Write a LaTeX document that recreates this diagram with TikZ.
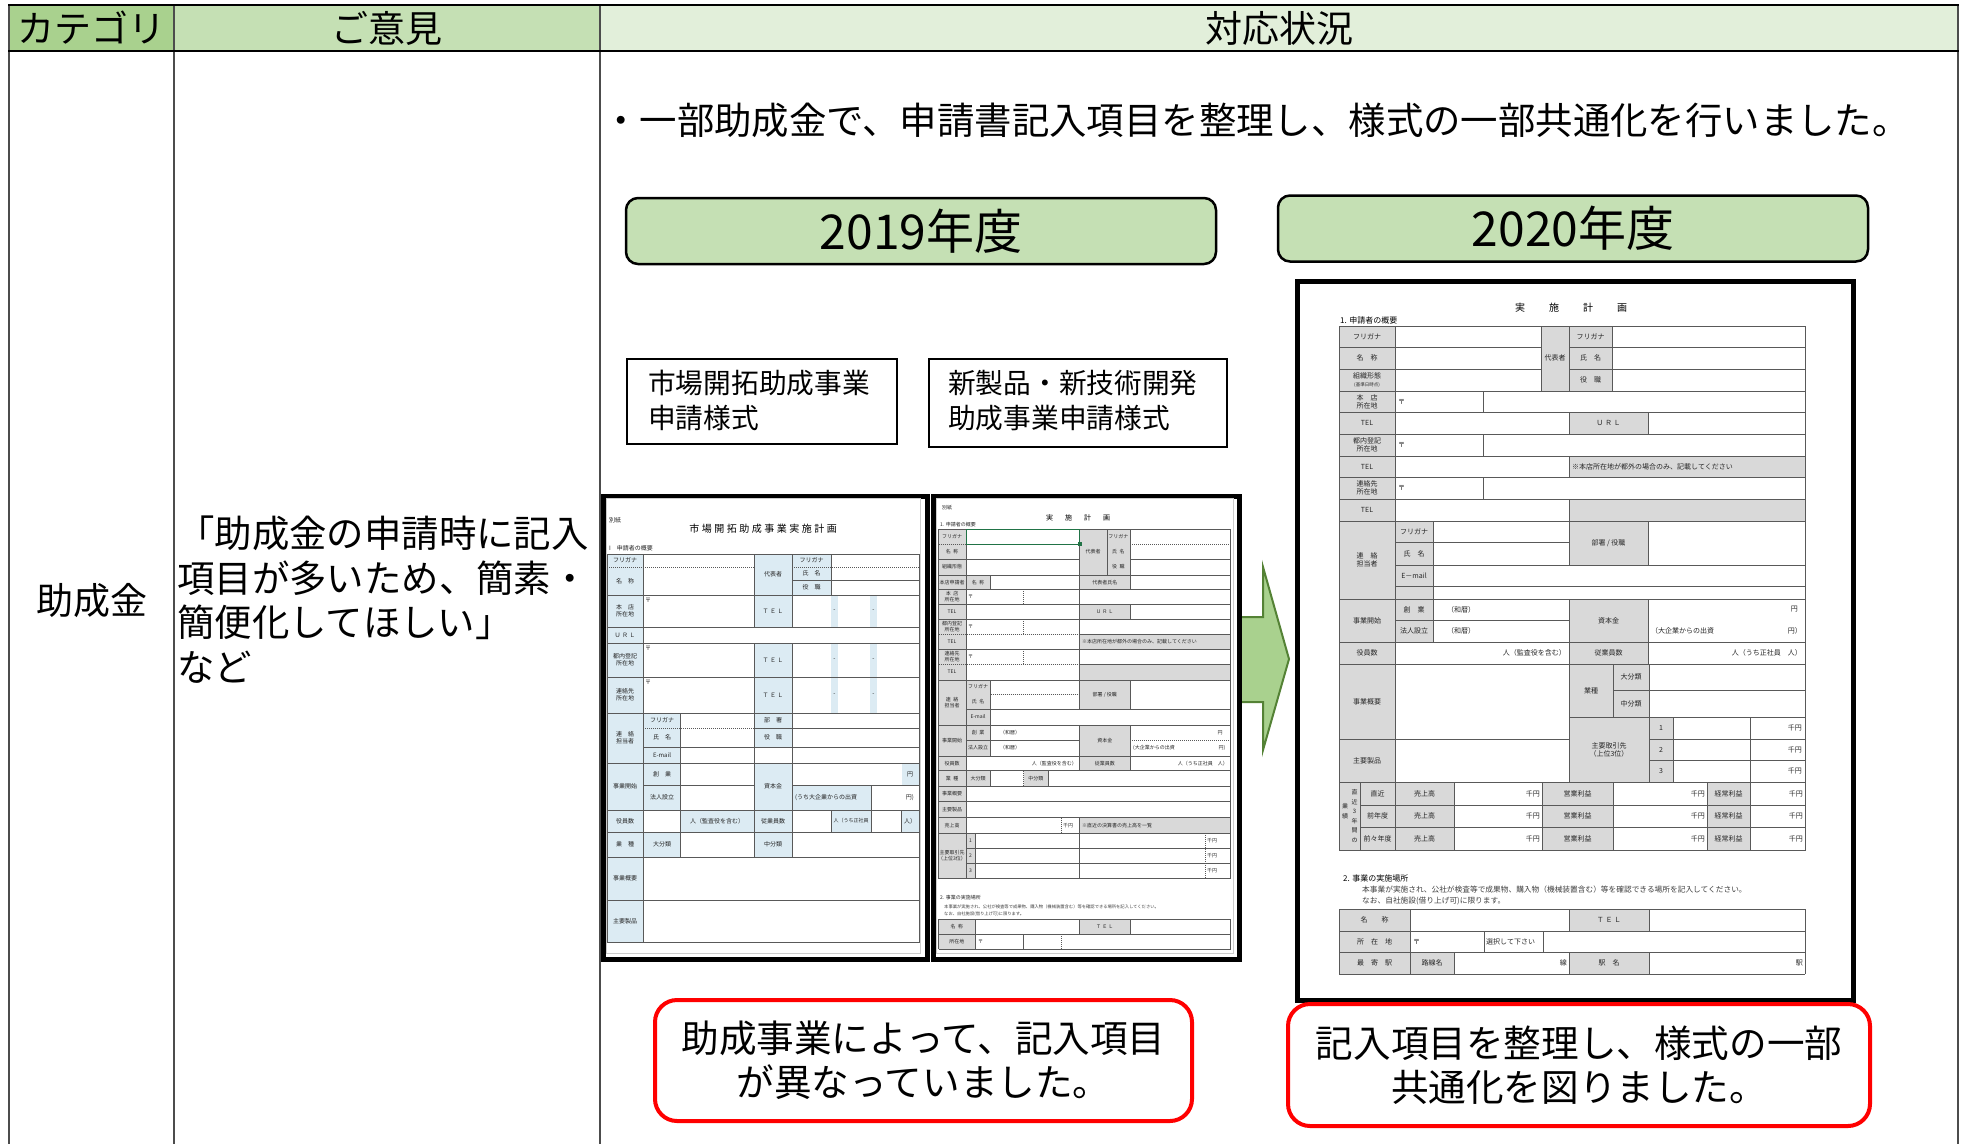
\documentclass[tikz,border=0pt]{standalone}
\usepackage{fontspec}
\setmainfont{Noto Sans CJK JP}
\definecolor{hdrA}{HTML}{A9D18E}
\definecolor{hdrB}{HTML}{C5E0B4}
\definecolor{hdrC}{HTML}{E2EFDA}
\definecolor{arrowline}{HTML}{548235}
\definecolor{fgray}{HTML}{D9D9D9}
\definecolor{fblue}{HTML}{DCEBF3}
\definecolor{xlgreen}{HTML}{217346}
\newcounter{flabcnt}
\newcommand\putlab[4][ftC]{\stepcounter{flabcnt}\node[#1] (flab\arabic{flabcnt}) at (#2,#3) {#4};}
\tikzset{
  gridline/.style={draw=black!70, line width=1.8pt},
  hdrtxt/.style={font=\fontsize{37}{43}\selectfont, inner sep=0pt},
  bigtxt/.style={font=\fontsize{37.4}{44.5}\selectfont, inner sep=0pt, align=left},
  yearbox/.style={draw=black, line width=2.5pt, fill=hdrB, rounded corners=12pt, font=\fontsize{48}{56}\selectfont, minimum width=590pt, minimum height=66pt, inner sep=0pt},
  namebox/.style={draw=black, line width=1.5pt, fill=white, inner sep=0pt, anchor=north west},
  nametxt/.style={font=\fontsize{27.7}{35}\selectfont, align=left, inner sep=0pt, anchor=west},
  notebox/.style={draw=red, line width=4pt, rounded corners=22pt, fill=white, font=\fontsize{37.6}{44}\selectfont, align=center, inner sep=0pt},
  formframe/.style={draw=black, line width=4.5pt, fill=white, inner sep=0pt, anchor=north west},
  fl/.style={draw=black!65, line width=0.6pt},
  fld/.style={draw=black!65, line width=0.5pt, dash pattern=on 1pt off 1pt},
  ftA/.style={font=\fontsize{6}{7}\selectfont, inner sep=0pt, align=center, text=black!85},
  ftB/.style={font=\fontsize{5}{6}\selectfont, inner sep=0pt, align=center, text=black!85},
  ftBs/.style={font=\fontsize{4.3}{5}\selectfont, inner sep=0pt, text=black!75},
  ftC/.style={font=\fontsize{7}{8}\selectfont, inner sep=0pt, align=center, text=black!85},
  ftV/.style={font=\fontsize{6}{9.5}\selectfont, inner sep=0pt, align=center, text=black!85},
  ftS/.style={font=\fontsize{7.7}{9}\selectfont, inner sep=0pt, text=black!75},
  ftH/.style={font=\fontsize{8}{9}\selectfont, inner sep=0pt},
  titleA/.style={font=\fontsize{10}{12}\selectfont\addfontfeature{LetterSpace=25}, inner sep=0pt},
  titleB/.style={font=\fontsize{7}{8}\selectfont, inner sep=0pt},
  titleC/.style={font=\fontsize{10}{12}\selectfont, inner sep=0pt},
}
\begin{document}
\begin{tikzpicture}[x=1pt,y=-1pt]
\useasboundingbox (0,0) rectangle (1968,1144);
\fill[white] (0,0) rectangle (1968,1144);
% ---------- main table ----------
\fill[hdrA] (9,5) rectangle (174,51);
\fill[hdrB] (174,5) rectangle (600,51);
\fill[hdrC] (600,5) rectangle (1958,51);
\foreach \x in {9,174,600,1958} \draw[gridline] (\x,5) -- (\x,1144);
\draw[black, line width=2pt] (8,5) -- (1959,5);
\draw[black, line width=2pt] (8,51) -- (1959,51);
\node[hdrtxt] (hcat) at (91.5,28) {カテゴリ};
\node[hdrtxt] (hop) at (387,28) {ご意見};
\node[hdrtxt] (hres) at (1279,28) {対応状況};
\node[hdrtxt] (cat) at (91.5,601) {助成金};
\node[bigtxt, anchor=north west] (opinion) at (177,516) {「助成金の申請時に記入\\項目が多いため、簡素・\\簡便化してほしい」\\など};
\node[bigtxt, anchor=west] (bullet) at (602,120) {・一部助成金で、申請書記入項目を整理し、様式の一部共通化を行いました。};
% ---------- year boxes ----------
\node[yearbox] (y2019) at (921,231) {2019年度};
\node[yearbox] (y2020) at (1573,228.5) {2020年度};
% ---------- form name boxes ----------
\node[namebox, minimum width=270pt, minimum height=85pt] (nb1) at (626,358) {};
\node[nametxt] (nt1) at (648,400) {市場開拓助成事業\\申請様式};
\node[namebox, minimum width=298pt, minimum height=88pt] (nb2) at (928,358) {};
\node[nametxt] (nt2) at (948,401) {新製品・新技術開発\\助成事業申請様式};
% ---------- arrow ----------
\draw[fill=hdrA, draw=arrowline, line width=2pt, line join=miter] (1234,617) -- (1263,617) -- (1263,567) -- (1289,659) -- (1263,750) -- (1263,702) -- (1234,702) -- cycle;
% ---------- form 1 ----------
\node[formframe, minimum width=324pt, minimum height=463pt] (form1) at (601,494) {};
\draw[gray!40, line width=0.4pt] (606,498) rectangle (920,953);
\fill[fblue] (607,554) rectangle (643,942);
\fill[fblue] (754,554) rectangle (831,595);
\fill[fblue] (754,595) rectangle (792,627);
\fill[fblue] (754,643) rectangle (792,713);
\foreach \ya/\yb in {595/627,643/677,677/713} {\fill[fblue] (831,\ya) rectangle (838,\yb); \fill[fblue] (870,\ya) rectangle (877,\yb);}
\fill[fblue] (643,713) rectangle (680.5,763);
\fill[fblue] (754,713) rectangle (792,747);
\fill[fblue] (643,763) rectangle (680.5,810);
\fill[fblue] (754,763) rectangle (792,810);
\fill[fblue] (901.5,763) rectangle (919,785);
\fill[fblue] (792,785) rectangle (871,810);
\fill[fblue] (680.5,810) rectangle (792,832);
\fill[fblue] (831,810) rectangle (871,832);
\fill[fblue] (901.5,810) rectangle (919,832);
\fill[fblue] (643,832) rectangle (680.5,857);
\fill[fblue] (754,832) rectangle (792,857);
\draw[fl] (607,554) rectangle (919,942);
\foreach \y in {595,627,643,677,713,763,810,832,857,900} \draw[fl] (607,\y) -- (919,\y);
\draw[fld] (607,567) -- (754,567);
\draw[fld] (792,567) -- (919,567);
\draw[fl] (792,580) -- (919,580);
\draw[fld] (643,728) -- (754,728);
\draw[fl] (754,728) -- (919,728);
\draw[fl] (643,747) -- (919,747);
\draw[fl] (643,785) -- (754,785);
\draw[fl] (792,785) -- (919,785);
\draw[fl] (643,554) -- (643,942);
\draw[fl] (754,554) -- (754,627); \draw[fl] (754,643) -- (754,857);
\draw[fl] (792,554) -- (792,627); \draw[fl] (792,643) -- (792,857);
\draw[fl] (831,554) -- (831,595);
\draw[fl] (680.5,713) -- (680.5,857);
\draw[fl] (871,785) -- (871,832);
\draw[fl] (831,810) -- (831,832);
\draw[fl] (901.5,810) -- (901.5,832);
\putlab[ftA, anchor=west]{609}{520}{別紙}
\putlab[titleA]{763}{529}{市場開拓助成事業実施計画}
\putlab[ftA, anchor=west]{609}{548}{I\quad 申請者の概要}
\putlab[ftA]{625}{560.5}{フリガナ}
\putlab[ftA]{625}{581}{名\quad 称}
\putlab[ftA]{773}{574.5}{代表者}
\putlab[ftA]{811.5}{560.5}{フリガナ}
\putlab[ftA]{811.5}{573.5}{氏\quad 名}
\putlab[ftA]{811.5}{587.5}{役\quad 職}
\putlab[ftA]{625}{611}{本\quad 店\\所在地}
\putlab[ftA, anchor=west]{645}{600}{〒}
\putlab[ftA]{773}{611}{Ｔ Ｅ Ｌ}
\putlab[ftA]{625}{635}{Ｕ Ｒ Ｌ}
\putlab[ftA]{625}{660}{都内登記\\所在地}
\putlab[ftA, anchor=west]{645}{648}{〒}
\putlab[ftA]{773}{660}{Ｔ Ｅ Ｌ}
\putlab[ftA]{625}{695}{連絡先\\所在地}
\putlab[ftA, anchor=west]{645}{682}{〒}
\putlab[ftA]{773}{695}{Ｔ Ｅ Ｌ}
\foreach \y in {611,660,695} {\putlab[ftA]{834.5}{\y}{-}\putlab[ftA]{873.5}{\y}{-}}
\putlab[ftA]{625}{738}{連\quad 絡\\担当者}
\putlab[ftA]{662}{720.5}{フリガナ}
\putlab[ftA]{662}{737.5}{氏\quad 名}
\putlab[ftA]{662}{755}{E-mail}
\putlab[ftA]{773}{720.5}{部\quad 署}
\putlab[ftA]{773}{737.5}{役\quad 職}
\putlab[ftA]{625}{786.5}{事業開始}
\putlab[ftA]{662}{774}{創\quad 業}
\putlab[ftA]{662}{797.5}{法人設立}
\putlab[ftA]{773}{786.5}{資本金}
\putlab[ftA]{910}{774}{円}
\putlab[ftA, anchor=west]{795}{797.5}{(うち大企業からの出資}
\putlab[ftA]{910}{797.5}{円)}
\putlab[ftA]{625}{821}{役員数}
\putlab[ftA]{717}{821}{人（監査役を含む）}
\putlab[ftA]{773}{821}{従業員数}
\putlab[ftB]{851}{821}{人（うち正社員}
\putlab[ftA]{910}{821}{人）}
\putlab[ftA]{625}{844.5}{業\quad 種}
\putlab[ftA]{662}{844.5}{大分類}
\putlab[ftA]{773}{844.5}{中分類}
\putlab[ftA]{625}{878.5}{事業概要}
\putlab[ftA]{625}{921}{主要製品}
% ---------- form 2 ----------
\node[formframe, minimum width=306pt, minimum height=463pt] (form2) at (931,494) {};
\draw[gray!40, line width=0.4pt] (936,498) rectangle (1233,953);
\fill[fgray] (938.5,529.3) rectangle (965.8,878.3);
\fill[fgray] (1079.5,529.3) rectangle (1130,575);
\fill[fgray] (965.8,575) rectangle (990.7,589.3);
\fill[fgray] (1079.5,575) rectangle (1130,589.3);
\fill[fgray] (1079.5,604.3) rectangle (1130,619.3);
\fill[fgray] (1079.5,634) rectangle (1230.6,649.3);
\fill[fgray] (1079.5,664.3) rectangle (1230.6,680);
\fill[fgray] (965.8,680) rectangle (990.7,756);
\fill[fgray] (1079.5,680) rectangle (1130,709.3);
\fill[fgray] (1079.5,725) rectangle (1130,770.7);
\fill[fgray] (965.8,770.7) rectangle (990.7,786);
\fill[fgray] (1023.5,770.7) rectangle (1048,786);
\fill[fgray] (1079.5,817.7) rectangle (1230.6,833.3);
\fill[fgray] (965.8,833.3) rectangle (975,878.3);
\fill[fgray] (938.5,919.3) rectangle (975,949.3);
\fill[fgray] (1079.5,919.3) rectangle (1130,934);
\draw[fl] (938.5,529.3) rectangle (1230.6,878.3);
\foreach \y in {575,589.3,604.3,619.3,649.3,680,725,756,770.7,786,801.7,817.7,833.3} \draw[fl] (938.5,\y) -- (1230.6,\y);
\draw[fld] (938.5,544.3) -- (1079.5,544.3); \draw[fld] (1130,544.3) -- (1230.6,544.3);
\draw[fl] (938.5,559) -- (1079.5,559); \draw[fl] (1130,559) -- (1230.6,559);
\draw[fld] (938.5,634) -- (1079.5,634); \draw[fl] (1079.5,634) -- (1230.6,634);
\draw[fld] (938.5,664.3) -- (1079.5,664.3); \draw[fl] (1079.5,664.3) -- (1230.6,664.3);
\draw[fld] (990.7,694.5) -- (1079.5,694.5);
\draw[fl] (965.8,709.3) -- (1230.6,709.3);
\draw[fl] (965.8,740) -- (1079.5,740); \draw[fld] (1130,740) -- (1230.6,740);
\draw[fl] (965.8,848.3) -- (1230.6,848.3);
\draw[fl] (965.8,863.3) -- (1230.6,863.3);
\draw[fl] (965.8,529.3) -- (965.8,878.3);
\draw[fl] (1079.5,529.3) -- (1079.5,709.3);
\draw[fl] (1079.5,725) -- (1079.5,770.7);
\draw[fl] (1079.5,817.7) -- (1079.5,878.3);
\draw[fl] (1106.8,529.3) -- (1106.8,575);
\draw[fl] (1130,529.3) -- (1130,589.3);
\draw[fl] (1130,604.3) -- (1130,619.3);
\draw[fl] (1130,680) -- (1130,709.3);
\draw[fl] (1130,725) -- (1130,770.7);
\draw[fl] (990.7,575) -- (990.7,589.3);
\draw[fl] (990.7,680) -- (990.7,756);
\draw[fl] (990.7,770.7) -- (990.7,786);
\foreach \ya/\yb in {589.3/604.3,619.3/634,649.3/664.3} \draw[fld] (1023.5,\ya) -- (1023.5,\yb);
\draw[fld] (1023.5,770.7) -- (1023.5,786);
\draw[fl] (1048,770.7) -- (1048,786);
\draw[fld] (1061.4,817.7) -- (1061.4,833.3);
\draw[fl] (975,833.3) -- (975,878.3);
\draw[fld] (1205.3,833.3) -- (1205.3,878.3);
\foreach \y in {919.3,934,949.3} \draw[fl] (938.5,\y) -- (1230.6,\y);
\draw[fl] (938.5,919.3) -- (938.5,949.3); \draw[fl] (975,919.3) -- (975,949.3); \draw[fl] (1230.6,919.3) -- (1230.6,949.3);
\draw[fl] (1079.5,919.3) -- (1079.5,934); \draw[fl] (1130,919.3) -- (1130,934);
\draw[fl] (1023.5,934) -- (1023.5,949.3); \draw[fld] (1061.4,934) -- (1061.4,949.3);
\draw[xlgreen, line width=1pt] (966,529.5) rectangle (1079.5,544.3);
\fill[xlgreen] (1077.5,542.3) rectangle (1081.5,546.3);
\putlab[ftB, anchor=west]{942}{508}{別紙}
\putlab[titleB]{1078}{518}{実\hspace{12pt}施\hspace{12pt}計\hspace{12pt}画}
\putlab[ftB, anchor=west]{940}{525}{1. 申請者の概要}
\putlab[ftB]{952}{536.8}{フリガナ}
\putlab[ftB]{952}{551.7}{名\enspace 称}
\putlab[ftB]{952}{567}{組織形態}
\putlab[ftB]{1093}{552}{代表者}
\putlab[ftB]{1118.4}{536.8}{フリガナ}
\putlab[ftB]{1118.4}{551.7}{氏\enspace 名}
\putlab[ftB]{1118.4}{567}{役\enspace 職}
\putlab[ftB]{952}{582.2}{本店申請者}
\putlab[ftB]{978}{582.2}{名\enspace 称}
\putlab[ftB]{1104.8}{582.2}{代表者氏名}
\putlab[ftB]{952}{596.8}{本\enspace 店\\所在地}
\putlab[ftB, anchor=west]{968}{596.8}{〒}
\putlab[ftB]{952}{611.8}{TEL}
\putlab[ftB]{1104.8}{611.8}{Ｕ Ｒ Ｌ}
\putlab[ftB]{952}{626.7}{都内登記\\所在地}
\putlab[ftB, anchor=west]{968}{626.7}{〒}
\putlab[ftB]{952}{641.7}{TEL}
\putlab[ftB, anchor=west]{1082}{641.7}{※本店所在地が都外の場合のみ、記載してください}
\putlab[ftB]{952}{656.8}{連絡先\\所在地}
\putlab[ftB, anchor=west]{968}{656.8}{〒}
\putlab[ftB]{952}{672}{TEL}
\putlab[ftB]{952}{702.5}{連\enspace 絡\\担当者}
\putlab[ftB]{978}{687}{フリガナ}
\putlab[ftB]{978}{701.8}{氏\enspace 名}
\putlab[ftB]{978}{717}{E-mail}
\putlab[ftB]{1104.8}{694.5}{部署 / 役職}
\putlab[ftB]{952}{740.5}{事業開始}
\putlab[ftB]{978}{732.5}{創\enspace 業}
\putlab[ftB]{978}{748}{法人設立}
\putlab[ftB, anchor=west]{1000}{732.5}{（和暦）}
\putlab[ftB, anchor=west]{1000}{748}{（和暦）}
\putlab[ftB]{1104.8}{740.5}{資本金}
\putlab[ftB]{1220}{732.5}{円}
\putlab[ftB, anchor=west]{1133}{748}{(大企業からの出資}
\putlab[ftB]{1222}{748}{円)}
\putlab[ftB]{952}{763.3}{役員数}
\putlab[ftB, anchor=east]{1077}{763.3}{人（監査役を含む）}
\putlab[ftB]{1104.8}{763.3}{従業員数}
\putlab[ftB, anchor=east]{1228}{763.3}{人（うち正社員\quad 人）}
\putlab[ftB]{952}{778.3}{業\enspace 種}
\putlab[ftB]{978}{778.3}{大分類}
\putlab[ftB]{1035.8}{778.3}{中分類}
\putlab[ftB]{952}{793.8}{事業概要}
\putlab[ftB]{952}{809.7}{主要製品}
\putlab[ftB]{952}{825.5}{売上高}
\putlab[ftB, anchor=west]{1063}{825.5}{千円}
\putlab[ftB, anchor=west]{1082}{825.5}{※直近の決算書の売上高を一覧}
\putlab[ftB]{952}{855.8}{主要取引先\\（上位3位）}
\foreach \y/\n in {840.8/1,855.8/2,870.8/3} {\putlab[ftB]{970.4}{\y}{\n}\putlab[ftB, anchor=west]{1207}{\y}{千円}}
\putlab[ftB, anchor=west]{940}{898}{2. 事業の実施場所}
\putlab[ftBs, anchor=west]{944}{907}{本事業が実施され、公社が検査等で成果物、購入物（機械装置含む）等を確認できる場所を記入してください。}
\putlab[ftBs, anchor=west]{944}{914.5}{なお、自社施設(借り上げ可)に限ります。}
\putlab[ftB]{956.8}{926.7}{名\enspace 称}
\putlab[ftB]{1104.8}{926.7}{Ｔ Ｅ Ｌ}
\putlab[ftB]{956.8}{941.7}{所在地}
\putlab[ftB, anchor=west]{978}{941.7}{〒}
% ---------- form 3 (2020) ----------
\node[formframe, line width=5pt, minimum width=556pt, minimum height=719pt] (form3) at (1295,279) {};
\putlab[titleC]{1571}{308}{実\hspace{24pt}施\hspace{24pt}計\hspace{24pt}画}
\putlab[ftH, anchor=west]{1340}{320}{1. 申請者の概要}
\fill[fgray] (1339,326) rectangle (1395,782);
\fill[fgray] (1541,326) rectangle (1612,391);
\fill[fgray] (1569,412) rectangle (1648,434);
\fill[fgray] (1569,456) rectangle (1805,477);
\fill[fgray] (1569,499) rectangle (1805,521);
\fill[fgray] (1395,521) rectangle (1433,642);
\fill[fgray] (1569,521) rectangle (1648,565);
\fill[fgray] (1569,599) rectangle (1648,664);
\fill[fgray] (1569,664) rectangle (1649,782);
\fill[fgray] (1649,717) rectangle (1673,782);
\fill[fgray] (1339,782) rectangle (1395,850);
\fill[fgray] (1395,782) rectangle (1454,850);
\fill[fgray] (1542,782) rectangle (1613,850);
\fill[fgray] (1707,782) rectangle (1750,850);
\fill[fgray] (1339,909) rectangle (1410,974);
\fill[fgray] (1569,909) rectangle (1649,931);
\fill[fgray] (1410,952) rectangle (1454,974);
\fill[fgray] (1569,952) rectangle (1649,974);
\draw[fl] (1339,326) rectangle (1805,850);
\foreach \y in {391,412,434,456,477,499,521,599,642,664,782} \draw[fl] (1339,\y) -- (1805,\y);
\foreach \y in {347,369} {\draw[fl] (1339,\y) -- (1541,\y); \draw[fl] (1569,\y) -- (1805,\y);}
\draw[fl] (1395,542) -- (1569,542);
\draw[fl] (1395,565) -- (1805,565);
\draw[fl] (1395,586) -- (1805,586);
\draw[fl] (1395,620) -- (1569,620);
\draw[fl] (1613,690) -- (1805,690);
\draw[fl] (1569,717) -- (1805,717);
\draw[fl] (1339,739) -- (1569,739);
\draw[fl] (1649,739) -- (1805,739);
\draw[fl] (1649,760) -- (1805,760);
\draw[fl] (1360,805) -- (1805,805);
\draw[fl] (1360,827) -- (1805,827);
\draw[fl] (1395,326) -- (1395,850);
\draw[fl] (1541,326) -- (1541,391);
\draw[fl] (1569,326) -- (1569,391);
\draw[fl] (1612,326) -- (1612,391);
\draw[fl] (1483,391) -- (1483,412);
\draw[fl] (1569,412) -- (1569,434); \draw[fl] (1648,412) -- (1648,434);
\draw[fl] (1483,434) -- (1483,456);
\draw[fl] (1569,456) -- (1569,477);
\draw[fl] (1483,477) -- (1483,499);
\draw[fl] (1569,499) -- (1569,521);
\draw[fl] (1433,521) -- (1433,642);
\draw[fl] (1569,521) -- (1569,565); \draw[fl] (1648,521) -- (1648,565);
\draw[fl] (1569,599) -- (1569,782); \draw[fl] (1648,599) -- (1648,664);
\draw[fl] (1613,664) -- (1613,717);
\draw[fl] (1649,664) -- (1649,782);
\draw[fl] (1673,717) -- (1673,782);
\draw[fl] (1750,717) -- (1750,782);
\foreach \x in {1360,1454,1542,1613,1707,1750} \draw[fl] (\x,782) -- (\x,850);
\foreach \y in {909,931,952,974} \draw[fl] (1339,\y) -- (1805,\y);
\draw[fl] (1339,909) -- (1339,974); \draw[fl] (1410,909) -- (1410,974); \draw[fl] (1805,909) -- (1805,974);
\draw[fl] (1569,909) -- (1569,931); \draw[fl] (1649,909) -- (1649,931);
\draw[fl] (1484,931) -- (1484,952); \draw[fl] (1543,931) -- (1543,952);
\draw[fl] (1454,952) -- (1454,974); \draw[fl] (1569,952) -- (1569,974); \draw[fl] (1649,952) -- (1649,974);
\putlab{1367}{336.5}{フリガナ}
\putlab{1367}{358}{名\quad 称}
\putlab{1367}{380}{組織形態\\{\fontsize{4.5}{5}\selectfont (基準日時点)}}
\putlab{1367}{401.5}{本\quad 店\\所在地}
\putlab{1367}{423}{TEL}
\putlab{1367}{445}{都内登記\\所在地}
\putlab{1367}{466.5}{TEL}
\putlab{1367}{488}{連絡先\\所在地}
\putlab{1367}{510}{TEL}
\putlab{1367}{560}{連\quad 絡\\担当者}
\putlab{1367}{620.5}{事業開始}
\putlab{1367}{653}{役員数}
\putlab{1367}{701.5}{事業概要}
\putlab{1367}{760.5}{主要製品}
\putlab{1555}{358}{代表者}
\putlab{1590.5}{336.5}{フリガナ}
\putlab{1590.5}{358}{氏\quad 名}
\putlab{1590.5}{380}{役\quad 職}
\putlab[ftC, anchor=west]{1398}{401.5}{〒}
\putlab[ftC, anchor=west]{1398}{445}{〒}
\putlab[ftC, anchor=west]{1398}{488}{〒}
\putlab{1608.5}{423}{Ｕ Ｒ Ｌ}
\putlab[ftC, anchor=west]{1572}{466.5}{※本店所在地が都外の場合のみ、記載してください}
\putlab{1414}{531.5}{フリガナ}
\putlab{1414}{553.5}{氏\quad 名}
\putlab{1414}{575.5}{E－mail}
\putlab{1608.5}{543}{部署 / 役職}
\putlab{1414}{609.5}{創\quad 業}
\putlab{1414}{631}{法人設立}
\putlab[ftC, anchor=west]{1447}{609.5}{（和暦）}
\putlab[ftC, anchor=west]{1447}{631}{（和暦）}
\putlab{1608.5}{620.5}{資本金}
\putlab[ftC, anchor=east]{1798}{609.5}{円}
\putlab[ftC, anchor=west]{1651}{631}{（大企業からの出資}
\putlab[ftC, anchor=east]{1802}{631}{円）}
\putlab[ftC, anchor=east]{1566}{653}{人（監査役を含む）}
\putlab{1608.5}{653}{従業員数}
\putlab[ftC, anchor=east]{1802}{653}{人（うち正社員\quad 人）}
\putlab{1591}{690.5}{業種}
\putlab{1631}{677}{大分類}
\putlab{1631}{703.5}{中分類}
\putlab{1609}{749.5}{主要取引先\\（上位3位）}
\foreach \y/\n in {728/1,749.5/2,771/3} {\putlab{1661}{\y}{\n}\putlab[ftC, anchor=east]{1802}{\y}{千円}}
\putlab[ftV]{1354.5}{816}{直\\近\\3\\年\\間\\の}
\putlab[ftV]{1345}{811}{業\\績}
\foreach \y/\t in {793.5/直近,816/前年度,838.5/前々年度} {\putlab{1377.5}{\y}{\t}\putlab{1424.5}{\y}{売上高}\putlab[ftC, anchor=east]{1540}{\y}{千円}\putlab{1577.5}{\y}{営業利益}\putlab[ftC, anchor=east]{1705}{\y}{千円}\putlab{1728.5}{\y}{経常利益}\putlab[ftC, anchor=east]{1803}{\y}{千円}}
\putlab[ftH, anchor=west]{1343}{878}{2. 事業の実施場所}
\putlab[ftS, anchor=west]{1362}{890}{本事業が実施され、公社が検査等で成果物、購入物（機械装置含む）等を確認できる場所を記入してください。}
\putlab[ftS, anchor=west]{1362}{901}{なお、自社施設(借り上げ可)に限ります。}
\putlab{1374.5}{920}{名\qquad 称}
\putlab{1609}{920}{Ｔ Ｅ Ｌ}
\putlab{1374.5}{941.5}{所\quad 在\quad 地}
\putlab[ftC, anchor=west]{1413}{941.5}{〒}
\putlab[ftC, anchor=west]{1486}{941.5}{選択して下さい}
\putlab{1374.5}{963}{最\quad 寄\quad 駅}
\putlab{1432}{963}{路線名}
\putlab[ftC, anchor=east]{1567}{963}{線}
\putlab{1609}{963}{駅\quad 名}
\putlab[ftC, anchor=east]{1803}{963}{駅}
% ---------- red notes ----------
\node[notebox, minimum width=537pt, minimum height=121pt] (n1) at (923.5,1060.5) {助成事業によって、記入項目\\が異なっていました。};
\node[notebox, minimum width=582pt, minimum height=122pt] (n2) at (1579,1065) {記入項目を整理し、様式の一部\\共通化を図りました。};
\end{tikzpicture}
\end{document}
